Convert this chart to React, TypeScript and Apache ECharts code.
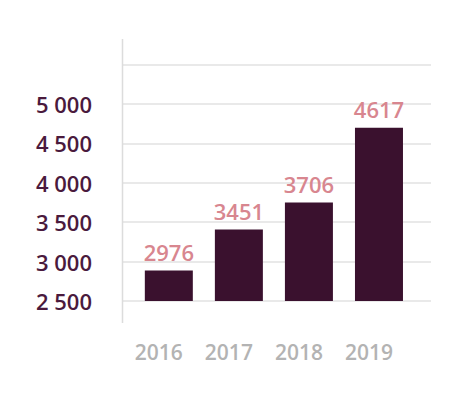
import React, { useEffect, useRef } from "react";
import * as echarts from "echarts";

const years = ["2016", "2017", "2018", "2019"];
const barValues = [2886, 3406, 3748, 4699];
const valueLabels = ["2976", "3451", "3706", "4617"];
const yTicks = [2500, 3000, 3500, 4000, 4500, 5000, 5500];
const yTickLabels = ["2 500", "3 000", "3 500", "4 000", "4 500", "5 000", ""];

export default function App() {
  const ref = useRef<HTMLDivElement>(null);
  useEffect(() => {
    if (!ref.current) return;
    const chart = echarts.init(ref.current, undefined, { renderer: "svg" });
    const font = "'Open Sans', Lato, sans-serif";
    chart.setOption({
      animation: false,
      backgroundColor: "#ffffff",
      grid: [
        { left: 122, right: 34, top: 64.5, bottom: 92 },
        { left: 133.8, right: 51, top: 64.5, bottom: 92 },
      ],
      xAxis: [
        { gridIndex: 0, type: "category", data: years, show: false },
        {
          gridIndex: 1,
          type: "category",
          data: years,
          axisLine: { show: false },
          axisTick: { show: false },
          axisLabel: {
            color: "#b3b3b3",
            fontFamily: font,
            fontWeight: 600,
            fontSize: 21,
            lineHeight: 20,
            margin: 41,
            padding: [0, 20, 0, 0],
          },
        },
      ],
      yAxis: [
        {
          gridIndex: 0,
          type: "value",
          min: yTicks[0],
          max: yTicks[yTicks.length - 1],
          interval: 500,
          axisLine: { show: false },
          axisTick: { show: false },
          splitLine: { lineStyle: { color: "#e2e2e2", width: 1.5 } },
          axisLabel: {
            color: "#4a1a3d",
            fontFamily: font,
            fontWeight: 600,
            fontSize: 22,
            margin: 30,
            formatter: (v: number) => {
              const i = yTicks.indexOf(v);
              return i >= 0 ? yTickLabels[i] : "";
            },
          },
        },
        {
          gridIndex: 1,
          type: "value",
          min: yTicks[0],
          max: yTicks[yTicks.length - 1],
          interval: 500,
          show: false,
        },
      ],
      graphic: [
        {
          type: "line",
          shape: { x1: 122.5, y1: 39, x2: 122.5, y2: 323 },
          style: { stroke: "#dcdcdc", lineWidth: 1.5 },
          z: 10,
        },
      ],
      series: [
        {
          type: "bar",
          xAxisIndex: 1,
          yAxisIndex: 1,
          data: barValues,
          barWidth: 48,
          itemStyle: { color: "#3a112e" },
          label: {
            show: true,
            position: "top",
            distance: 8,
            color: "#d8868f",
            fontFamily: font,
            fontWeight: 600,
            fontSize: 22,
            formatter: (p: any) => valueLabels[p.dataIndex],
          },
        },
      ],
    });
    return () => chart.dispose();
  }, []);
  return (
    <div
      ref={ref}
      style={{ position: "absolute", left: 0, top: 0, width: 465, height: 393 }}
    />
  );
}
